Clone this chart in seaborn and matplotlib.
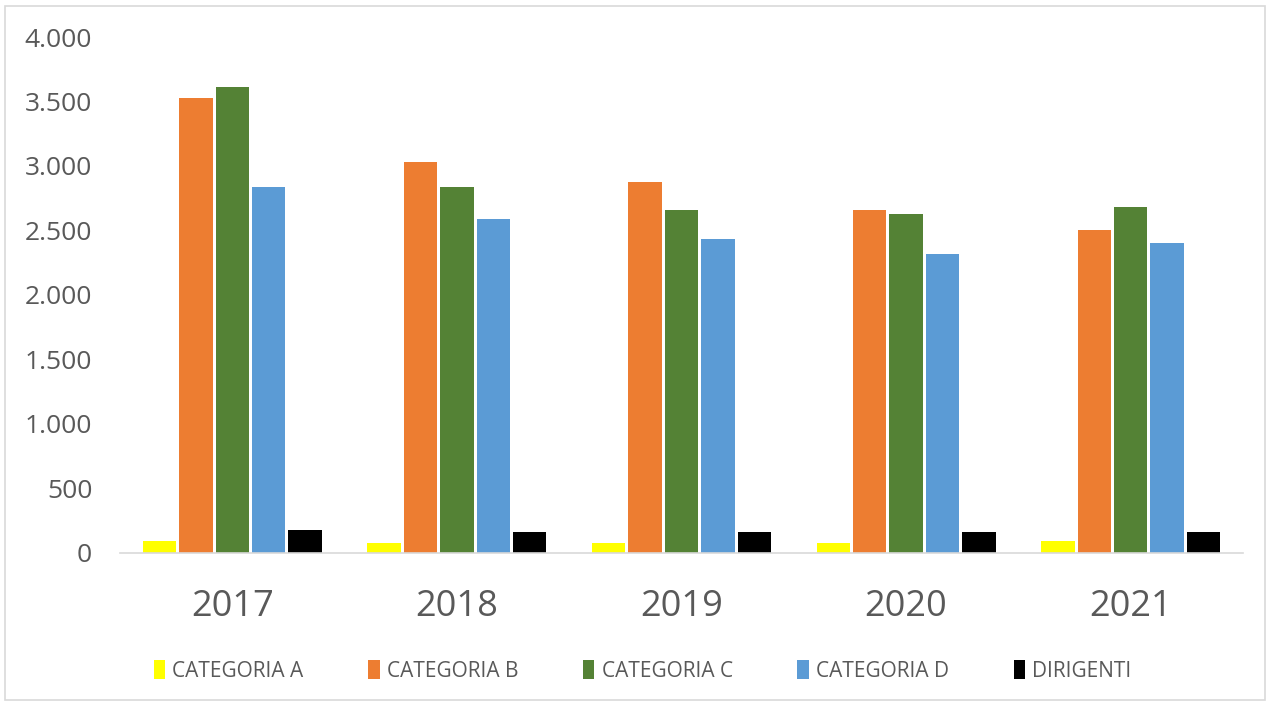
import matplotlib
matplotlib.use("Agg")
import matplotlib.pyplot as plt
import seaborn as sns
import pandas as pd
from matplotlib.patches import Rectangle, Patch
from matplotlib.ticker import FuncFormatter

years = ["2017", "2018", "2019", "2020", "2021"]
series = ["CATEGORIA A", "CATEGORIA B", "CATEGORIA C", "CATEGORIA D", "DIRIGENTI"]
cat_a = [90, 75, 78, 78, 90]
cat_b = [3525, 3030, 2875, 2660, 2505]
cat_c = [3610, 2840, 2660, 2625, 2685]
cat_d = [2840, 2585, 2430, 2320, 2405]
dirigenti = [175, 160, 160, 160, 160]
colors = ["#FFFF00", "#ED7D31", "#548235", "#5B9BD5", "#000000"]
yticks = [0, 500, 1000, 1500, 2000, 2500, 3000, 3500, 4000]

values = [cat_a, cat_b, cat_c, cat_d, dirigenti]
rows = []
for s, vals in zip(series, values):
    for y, v in zip(years, vals):
        rows.append({"Anno": y, "Serie": s, "Valore": v})
df = pd.DataFrame(rows)

sns.set_theme(style="white")
plt.rcParams['font.family'] = ['Open Sans', 'DejaVu Sans']

fig = plt.figure(figsize=(12.7, 7.06), dpi=100)
ax = fig.add_axes([120/1270, 1-552.7/706, (1243-120)/1270, (552.7-37)/706])

sns.barplot(data=df, x="Anno", y="Valore", hue="Serie", order=years,
            hue_order=series, palette=colors, width=0.81, gap=0.08,
            edgecolor="none", linewidth=0, saturation=1, ax=ax, legend=False)

ax.set_ylim(0, 4000)
ax.set_xlim(-0.5, 4.5)
ax.set_yticks(yticks)
ax.yaxis.set_major_formatter(FuncFormatter(lambda v, p: f"{int(v):,}".replace(",", ".")))
ax.set_xlabel("")
ax.set_ylabel("")
for s in ["top", "right", "left"]:
    ax.spines[s].set_visible(False)
ax.spines["bottom"].set_color("#d9d9d9")
ax.spines["bottom"].set_linewidth(1.2)
ax.tick_params(axis="y", length=0, pad=20, labelsize=19, labelcolor="#595959")
ax.tick_params(axis="x", length=0, pad=26, labelsize=26, labelcolor="#595959")

# chart frame
fig.patches.append(Rectangle((5/1270, 6/706), 1260/1270, 694/706, transform=fig.transFigure,
                             fill=False, edgecolor="#d9d9d9", linewidth=1.2))

handles = [Patch(facecolor=c, edgecolor="none") for c in colors]
leg = fig.legend(handles, series, loc="center", bbox_to_anchor=(0.506, 1-671/706), ncol=5,
                 frameon=False, handlelength=0.55, handleheight=1.0,
                 handletextpad=0.35, columnspacing=3.1,
                 prop={"family": ["Open Sans", "DejaVu Sans"], "size": 15})
for t in leg.get_texts():
    t.set_color("#595959")

fig.savefig("out.png", dpi=100)
